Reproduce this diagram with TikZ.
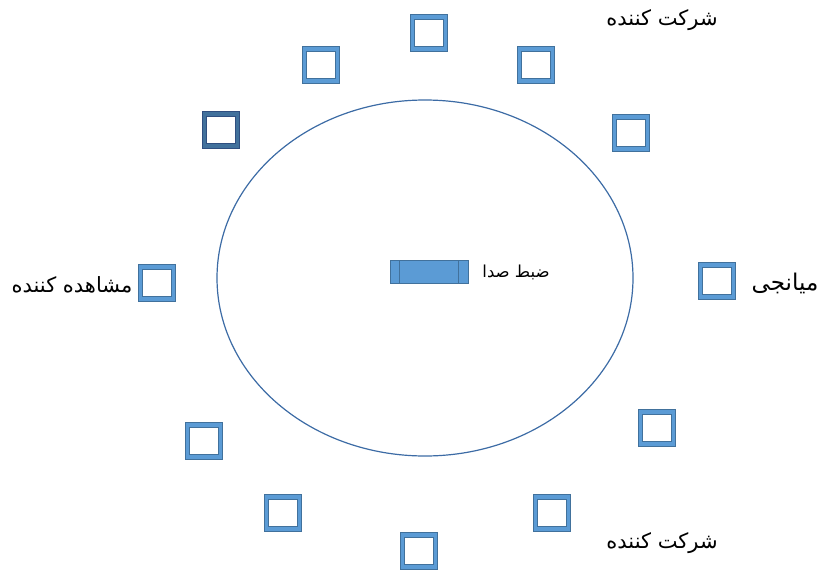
\documentclass[tikz,border=0pt]{standalone}
\usepackage{fontspec}
\newfontfamily\arabicfont[Script=Arabic]{DejaVu Sans}
\TeXXeTstate=1
\definecolor{sqedge}{HTML}{41719C}
\definecolor{sqfill}{HTML}{5B9BD5}
\definecolor{sqdark}{HTML}{2F4F80}
\definecolor{ellcol}{HTML}{3C6BA5}
\tikzset{
  seat/.style={draw=sqedge, double=sqfill, double distance=3.5pt, line width=0.8pt, fill=white, minimum width=33pt, minimum height=32pt, inner sep=0pt},
  seatdark/.style={seat, draw=sqdark, double=sqedge},
  lbl/.style={font=\arabicfont\fontsize{21}{25}\selectfont, inner sep=0pt}
}
\begin{document}
\begin{tikzpicture}[x=1pt,y=-1pt]
\useasboundingbox (0,0) rectangle (826,578);
\draw[ellcol, line width=1.2pt] (425,278) ellipse [x radius=208, y radius=178];
\node[seat] (s1) at (429,33) {};
\node[seat] (s2) at (321,65) {};
\node[seat] (s3) at (536,65) {};
\node[seatdark] (s4) at (221,130) {};
\node[seat] (s5) at (631,133) {};
\node[seat] (s6) at (157,283) {};
\node[seat] (s7) at (717,281) {};
\node[seat] (s8) at (204,441) {};
\node[seat] (s9) at (657,428) {};
\node[seat] (s10) at (283,513) {};
\node[seat] (s11) at (552,513) {};
\node[seat] (s12) at (419,551) {};
\node[draw=sqedge, fill=sqfill, line width=0.8pt, minimum width=78pt, minimum height=23pt, inner sep=0pt] (mix) at (429,272) {};
\draw[sqedge, line width=0.8pt] ([xshift=10pt]mix.north west) -- ([xshift=10pt]mix.south west);
\draw[sqedge, line width=0.8pt] ([xshift=-10pt]mix.north east) -- ([xshift=-10pt]mix.south east);
\node[lbl, font=\arabicfont\fontsize{16.5}{20}\selectfont] (tmix) at (516,272) {\beginR ضبط صدا\endR};
\node[lbl] (tobs) at (72,285) {\beginR مشاهده کننده\endR};
\node[lbl, font=\arabicfont\fontsize{23}{27}\selectfont] (tmed) at (785,283) {\beginR میانجی\endR};
\node[lbl] (tp1) at (662,20) {\beginR شرکت کننده\endR};
\node[lbl] (tp2) at (662,543) {\beginR شرکت کننده\endR};
\end{tikzpicture}
\end{document}
